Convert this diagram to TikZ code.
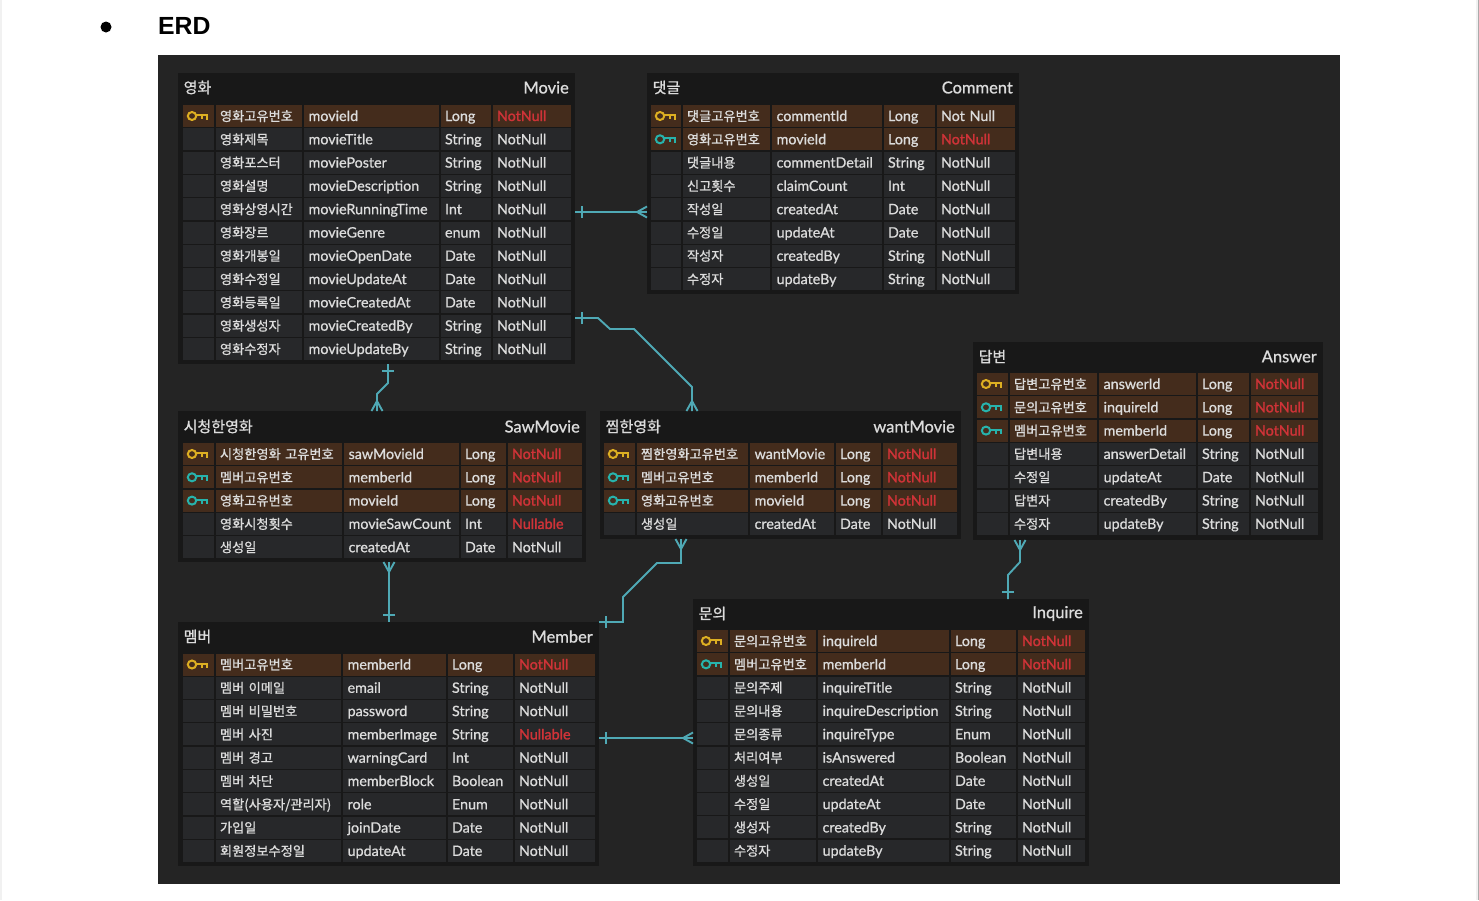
\documentclass[tikz,border=0pt]{standalone}
\usepackage{fontspec}
\setmainfont{Lato}[RawFeature={embolden=0.8}]
\newfontfamily\korfont{Noto Sans CJK KR}[RawFeature={embolden=1.0}]
\newfontfamily\headfont{Liberation Sans}
\newfontfamily\redfont{Lato}[RawFeature={embolden=1.6}]
\usetikzlibrary{decorations.markings}

\definecolor{panelgrey}{HTML}{242424}
\definecolor{boxblack}{HTML}{181818}
\definecolor{rowgrey}{HTML}{27282A}
\definecolor{rowbrown}{HTML}{442C1C}
\definecolor{textgrey}{HTML}{DCDCDC}
\definecolor{nullred}{HTML}{CF3338}
\definecolor{keygold}{HTML}{DDAF22}
\definecolor{keyteal}{HTML}{27B3AC}
\definecolor{linkteal}{HTML}{4FA9B5}
\definecolor{edgegrey}{HTML}{F1F1F1}
\definecolor{edgedark}{HTML}{ABABAB}

\tikzset{
  tablebox/.style={fill=boxblack,inner sep=0pt,outer sep=0pt,anchor=north west},
  titlekor/.style={text=textgrey,inner sep=0pt,font=\korfont\fontsize{15}{17}\selectfont},
  titleeng/.style={text=textgrey,inner sep=0pt,font=\fontsize{16.5}{18}\selectfont},
  cell/.style={text=textgrey,inner ysep=0pt,inner xsep=4pt,outer sep=0pt,anchor=west,
    minimum height=22pt,text height=11.5pt,text depth=1.5pt,align=left,
    font=\fontsize{14.3}{16}\selectfont},
  cellkor/.style={font=\korfont\fontsize{13.2}{16}\selectfont},
  cellpk/.style={fill=rowbrown},
  cellfk/.style={fill=rowbrown},
  cellno/.style={fill=rowgrey},
  keypk/.style={draw=keygold},
  keyfk/.style={draw=keyteal},
  keyno/.style={draw=none},
  pics/keyicon/.style={code={
    \path[pic actions,line width=2pt] (-5,0) ellipse (4.2pt and 4pt);
    \path[pic actions,line width=2pt] (-1,-1) -- (10,-1) -- (10,3.6) (4.5,-1) -- (4.5,3);
  }},
  relation/.style={draw=linkteal,line width=1.9pt,postaction={decorate,decoration={markings,
    mark=at position 7pt with {\draw[linkteal,line width=1.9pt] (0pt,-6pt) -- (0pt,6pt);},
    mark=at position 1 with {\draw[linkteal,line width=1.9pt] (0pt,-5.5pt) -- (-10pt,0pt) -- (0pt,5.5pt);}}}}
}

% columns of the table that comes next: left edges of the five cells, right edge of the last
\newcommand{\setcols}[6]{\def\colA{#1}\def\colB{#2}\def\colC{#3}\def\colD{#4}\def\colE{#5}\def\colF{#6}}
\newcommand{\nr}[1]{\textcolor{nullred}{\redfont #1}}

\newcommand{\erdcell}[5]{
  \pgfmathsetmacro\cellw{#2-#1-2.5}
  \pgfmathsetmacro\cellt{#2-#1-2.5-8}
  \node[cell,#4,minimum width=\cellw pt,text width=\cellt pt] (#3) at (#1,\rowy) {#5};
}

% name, left, top, right, bottom, title y, korean title, english title
\newcommand{\erdbox}[8]{
  \pgfmathsetmacro\boxw{#4-#2}
  \pgfmathsetmacro\boxh{#5-#3}
  \node[tablebox,minimum width=\boxw pt,minimum height=\boxh pt] (#1) at (#2,#3) {};
  \node[titlekor,anchor=west] (#1-kor) at (#2+5.5,#6+0.5) {#7};
  \node[titleeng,anchor=east] (#1-eng) at (#4-6,#6+0.5) {#8};
}

% name, y of the first row, rows
\newcommand{\erdrows}[3]{
  \foreach \kind/\kor/\nam/\typ/\nullity [count=\rownum] in {#3} {
    \pgfmathsetmacro\rowy{#2+(\rownum-1)*23.3}
    \erdcell{\colA}{\colB}{#1-\rownum-key}{cell\kind}{}
    \pic[key\kind] (#1-\rownum-icon) at (\colA+14,\rowy) {keyicon};
    \erdcell{\colB}{\colC}{#1-\rownum-kor}{cell\kind,cellkor}{\kor}
    \erdcell{\colC}{\colD}{#1-\rownum-nam}{cell\kind}{\hspace{0.6pt}\nam}
    \erdcell{\colD}{\colE}{#1-\rownum-typ}{cell\kind}{\typ}
    \pgfmathsetmacro\lastx{\colF+2.5}
    \erdcell{\colE}{\lastx}{#1-\rownum-nul}{cell\kind}{\nullity}
  }
}

\begin{document}
\begin{tikzpicture}[x=1pt,y=-1pt]
  \useasboundingbox (0,0) rectangle (1479,900);

  % Page
  \fill[edgegrey] (0,0) rectangle (2,900);
  \fill[edgegrey] (1476,0) rectangle (1478,900);
  \fill[edgedark] (1478,0) rectangle (1479,900);
  \node[circle,fill=black,inner sep=0pt,minimum size=11pt] (bullet) at (106,27) {};
  \node[anchor=west,inner sep=0pt,font=\headfont\bfseries\fontsize{24.8}{26}\selectfont] (heading) at (158,25.5) {ERD};
  \fill[panelgrey] (158,55) rectangle (1340,883.5);

  % Movie
  \erdbox{movie}{178}{73}{575}{364}{87}{영화}{Movie}
  \setcols{183}{216}{304}{441}{493}{571}
  \erdrows{movie}{116}{
    pk/영화고유번호/movieId/Long/\nr{NotNull},
    no/영화제목/movieTitle/String/NotNull,
    no/영화포스터/moviePoster/String/NotNull,
    no/영화설명/movieDescription/String/NotNull,
    no/영화상영시간/movieRunningTime/Int/NotNull,
    no/영화장르/movieGenre/enum/NotNull,
    no/영화개봉일/movieOpenDate/Date/NotNull,
    no/영화수정일/movieUpdateAt/Date/NotNull,
    no/영화등록일/movieCreatedAt/Date/NotNull,
    no/영화생성자/movieCreatedBy/String/NotNull,
    no/영화수정자/movieUpdateBy/String/NotNull}

  % Comment
  \erdbox{comment}{647}{73}{1019}{294}{87}{댓글}{Comment}
  \setcols{651}{683}{772}{884}{937}{1015}
  \erdrows{comment}{116}{
    pk/댓글고유번호/commentId/Long/Not Null,
    fk/영화고유번호/movieId/Long/\nr{NotNull},
    no/댓글내용/commentDetail/String/NotNull,
    no/신고횟수/claimCount/Int/NotNull,
    no/작성일/createdAt/Date/NotNull,
    no/수정일/updateAt/Date/NotNull,
    no/작성자/createdBy/String/NotNull,
    no/수정자/updateBy/String/NotNull}

  % Answer
  \erdbox{answer}{973}{342}{1323}{540}{356}{답변}{Answer}
  \setcols{977}{1010}{1099}{1198}{1251}{1318}
  \erdrows{answer}{384}{
    pk/답변고유번호/answerId/Long/\nr{NotNull},
    fk/문의고유번호/inquireId/Long/\nr{NotNull},
    fk/멤버고유번호/memberId/Long/\nr{NotNull},
    no/답변내용/answerDetail/String/NotNull,
    no/수정일/updateAt/Date/NotNull,
    no/답변자/createdBy/String/NotNull,
    no/수정자/updateBy/String/NotNull}

  % SawMovie
  \erdbox{saw}{178}{411}{586}{562}{426}{시청한영화}{SawMovie}
  \setcols{183}{216}{344}{461}{508}{582}
  \erdrows{saw}{454}{
    pk/시청한영화 고유번호/sawMovieId/Long/\nr{NotNull},
    fk/멤버고유번호/memberId/Long/\nr{NotNull},
    fk/영화고유번호/movieId/Long/\nr{NotNull},
    no/영화시청횟수/movieSawCount/Int/\nr{Nullable},
    no/생성일/createdAt/Date/NotNull}

  % wantMovie
  \erdbox{want}{600}{411}{961}{539}{426}{찜한영화}{wantMovie}
  \setcols{604}{637}{750}{836}{883}{957}
  \erdrows{want}{454}{
    pk/찜한영화고유번호/wantMovie/Long/\nr{NotNull},
    fk/멤버고유번호/memberId/Long/\nr{NotNull},
    fk/영화고유번호/movieId/Long/\nr{NotNull},
    no/생성일/createdAt/Date/NotNull}

  % Member
  \erdbox{member}{178}{622}{599}{866}{636}{멤버}{Member}
  \setcols{183}{216}{343}{448}{515}{595}
  \erdrows{member}{664.5}{
    pk/멤버고유번호/memberId/Long/\nr{NotNull},
    no/멤버 이메일/email/String/NotNull,
    no/멤버 비밀번호/password/String/NotNull,
    no/멤버 사진/memberImage/String/\nr{Nullable},
    no/멤버 경고/warningCard/Int/NotNull,
    no/멤버 차단/memberBlock/Boolean/NotNull,
    no/{역할(사용자/관리자)}/role/Enum/NotNull,
    no/가입일/joinDate/Date/NotNull,
    no/회원정보수정일/updateAt/Date/NotNull}

  % Inquire
  \erdbox{inquire}{693}{599}{1089}{866}{613}{문의}{Inquire}
  \setcols{697}{730}{818}{951}{1018}{1085}
  \erdrows{inquire}{641}{
    pk/문의고유번호/inquireId/Long/\nr{NotNull},
    fk/멤버고유번호/memberId/Long/\nr{NotNull},
    no/문의주제/inquireTitle/String/NotNull,
    no/문의내용/inquireDescription/String/NotNull,
    no/문의종류/inquireType/Enum/NotNull,
    no/처리여부/isAnswered/Boolean/NotNull,
    no/생성일/createdAt/Date/NotNull,
    no/수정일/updateAt/Date/NotNull,
    no/생성자/createdBy/String/NotNull,
    no/수정자/updateBy/String/NotNull}

  % Relations, each one from its one side to its many side
  \draw[relation] ([yshift=6.5pt]movie.east) -- ([yshift=-28.5pt]comment.west);
  \draw[relation] ([yshift=-99.5pt]movie.east) -- (598,318) -- (610,329) -- (634,329) -- (692,387)
    -- ([xshift=-88.5pt]want.north);
  \draw[relation] ([xshift=11.5pt]movie.south) -- (388,383) -- (377,394) -- ([xshift=-5pt]saw.north);
  \draw[relation] (member.north -| saw.south) ++(7,0) -- ([xshift=7pt]saw.south);
  \draw[relation] (member.north east) -- (623,622) -- (623,597) -- (657,563) -- (681,563)
    -- ([xshift=-99.5pt]want.south);
  \draw[relation] ([yshift=6pt]member.east) -- ([yshift=-5.5pt]inquire.west);
  \draw[relation] ([xshift=117pt]inquire.north) -- (1008,575) -- (1020,562) -- ([xshift=-128pt]answer.south);

\end{tikzpicture}
\end{document}
